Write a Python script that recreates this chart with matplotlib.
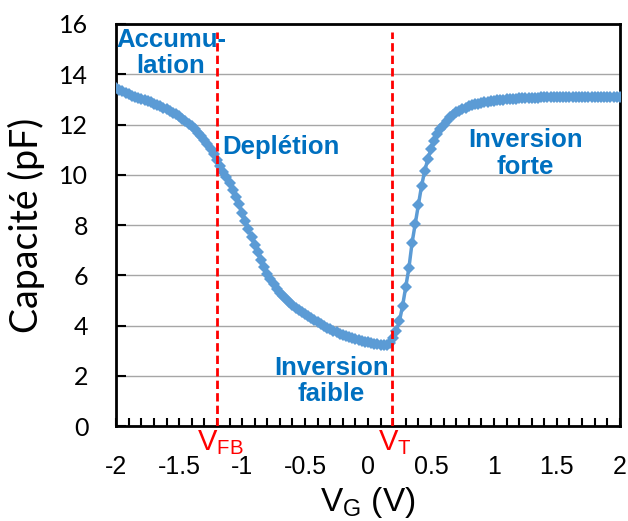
import numpy as np
import matplotlib
matplotlib.use("Agg")
import matplotlib.pyplot as plt
from matplotlib.ticker import MultipleLocator

# C-V curve, gate voltage swept from -2 V to 2 V in 0.025 V steps
capacitance = [
    13.44, 13.38, 13.32, 13.26, 13.20, 13.15, 13.10, 13.05, 13.00, 12.96,
    12.92, 12.88, 12.83, 12.78, 12.73, 12.67, 12.61, 12.54, 12.47, 12.40,
    12.32, 12.23, 12.14, 12.04, 11.93, 11.81, 11.68, 11.54, 11.39, 11.22,
    11.03, 10.82, 10.58, 10.36, 10.13, 9.90, 9.67, 9.40, 9.12, 8.82,
    8.50, 8.17, 7.83, 7.52, 7.22, 6.92, 6.62, 6.34, 6.07, 5.85,
    5.65, 5.47, 5.31, 5.17, 5.04, 4.92, 4.81, 4.71, 4.62, 4.53,
    4.45, 4.37, 4.29, 4.21, 4.13, 4.06, 3.99, 3.92, 3.85, 3.79,
    3.73, 3.68, 3.63, 3.58, 3.54, 3.50, 3.46, 3.42, 3.39, 3.36,
    3.33, 3.30, 3.27, 3.25, 3.23, 3.22, 3.24, 3.32, 3.50, 3.80,
    4.18, 4.80, 5.55, 6.30, 7.30, 8.05, 8.80, 9.55, 10.15, 10.62,
    11.02, 11.35, 11.62, 11.83, 12.00, 12.15, 12.28, 12.39, 12.48, 12.55,
    12.61, 12.67, 12.72, 12.76, 12.80, 12.83, 12.86, 12.88, 12.90, 12.92,
    12.94, 12.96, 12.98, 12.99, 13.00, 13.01, 13.02, 13.03, 13.04, 13.05,
    13.05, 13.06, 13.06, 13.07, 13.07, 13.08, 13.08, 13.09, 13.09, 13.09,
    13.10, 13.10, 13.10, 13.10, 13.10, 13.11, 13.11, 13.11, 13.11, 13.11,
    13.11, 13.10, 13.10, 13.10, 13.10, 13.09, 13.09, 13.09, 13.08, 13.08,
    13.08,
]
v_gate = np.linspace(-2, 2, len(capacitance))

v_fb = -1.2
v_t = 0.19

xticks = [-2, -1.5, -1, -0.5, 0, 0.5, 1, 1.5, 2]
xtick_labels = ["-2", "-1.5", "-1", "-0.5", "0", "0.5", "1", "1.5", "2"]
yticks = [0, 2, 4, 6, 8, 10, 12, 14, 16]

blue = "#5B9BD5"
text_blue = "#0070C0"

fig = plt.figure(figsize=(6.28, 5.21), dpi=100)
ax = fig.add_axes([0.185, 0.182, 0.802, 0.772])

ax.plot(v_gate, capacitance, color=blue, lw=2.5, marker="D", markersize=6.5,
        markeredgewidth=0, zorder=3)

ax.vlines([v_fb, v_t], 0, 15.7, colors="red", linestyles=(0, (3, 1.5)),
          lw=2, zorder=4)

ax.set_xlim(-2, 2)
ax.set_ylim(0, 16)
ax.set_xticks(xticks)
ax.set_xticklabels(xtick_labels, family="Liberation Sans", fontsize=18)
ax.xaxis.set_minor_locator(MultipleLocator(0.1))
ax.set_yticks(yticks)
ax.set_yticklabels([str(y) for y in yticks], family="Lato", fontsize=18)
ax.yaxis.grid(True, color="#A6A6A6", lw=1)
ax.set_axisbelow(True)

ax.tick_params(axis="x", which="both", direction="in", length=6, width=1.5,
               pad=21)
ax.tick_params(axis="y", direction="in", length=7, width=1.5, pad=20)
for side in ax.spines.values():
    side.set_linewidth(2)

ax.set_ylabel("Capacité (pF)", family="Lato", fontsize=27, labelpad=10)
ax.set_xlabel(r"V$_\mathregular{G}$ (V)", family="Liberation Sans",
              fontsize=24, labelpad=4)

lbl = dict(color=text_blue, fontsize=18.5, fontweight="bold",
           family="Liberation Sans", ha="center", va="center",
           linespacing=1.12, zorder=5)
ax.text(-1.565, 14.85, "Accumu-\nlation", **lbl)
ax.text(-0.69, 11.1, "Deplétion", **lbl)
ax.text(-0.29, 1.8, "Inversion\nfaible", **lbl)
ax.text(1.25, 10.85, "Inversion\nforte", **lbl)

red = dict(color="red", fontsize=21, family="Liberation Sans", va="top",
           ha="center")
ax.text(v_fb + 0.03, -0.1, r"V$_\mathregular{FB}$", **red)
ax.text(v_t + 0.02, -0.1, r"V$_\mathregular{T}$", **red)

fig.savefig("out.png", dpi=100)
